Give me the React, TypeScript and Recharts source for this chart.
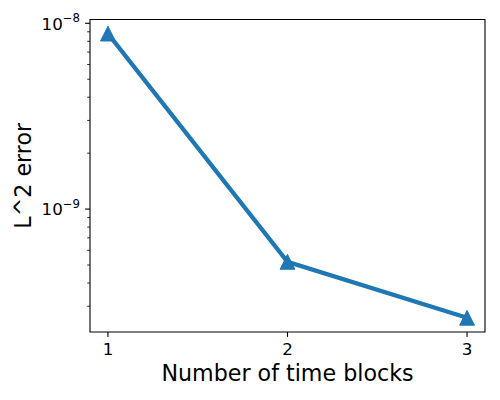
import React from "react"
import {
  LineChart, Line, XAxis, YAxis, ReferenceArea,
} from "recharts"

// values (log y axis)
const blocks = [1, 2, 3]
const l2Error = [8.8e-9, 5.2e-10, 2.6e-10]

const xTicks = [1, 2, 3]
const yMajor = [1e-9, 1e-8]
const yMinor = [
  3e-10, 4e-10, 5e-10, 6e-10, 7e-10, 8e-10, 9e-10,
  2e-9, 3e-9, 4e-9, 5e-9, 6e-9, 7e-9, 8e-9, 9e-9,
]
const xDomain: [number, number] = [0.9, 3.1]
const yDomain: [number, number] = [2.18e-10, 1.048e-8]

const data = blocks.map((b, i) => ({ blocks: b, err: l2Error[i] }))

const BLUE = "#1f77b4"
const FONT = "DejaVu Sans, sans-serif"
const TICK_FS = 16.7
const LABEL_FS = 22.2

const isMajor = (v: number) => yMajor.some((m) => Math.abs(m - v) / m < 1e-6)

function YTick(props: any) {
  const { x, y, payload } = props
  const v = payload.value as number
  if (!isMajor(v)) {
    return <line x1={x} x2={x - 2.8} y1={y} y2={y} stroke="#000" strokeWidth={0.83} />
  }
  const exp = Math.round(Math.log10(v))
  return (
    <g>
      <line x1={x} x2={x - 4.9} y1={y} y2={y} stroke="#000" strokeWidth={1.1} />
      <text x={x - 10} y={y + 6.3} textAnchor="end" fontFamily={FONT} fontSize={TICK_FS} fill="#000">
        <tspan>10</tspan>
        <tspan dy={-7.3} fontSize={11.7}>{"\u2212" + Math.abs(exp)}</tspan>
      </text>
    </g>
  )
}

function XTick(props: any) {
  const { x, y, payload } = props
  return (
    <g>
      <line x1={x} x2={x} y1={y} y2={y + 4.9} stroke="#000" strokeWidth={1.1} />
      <text x={x} y={y + 22.5} textAnchor="middle" fontFamily={FONT} fontSize={TICK_FS} fill="#000">
        {payload.value}
      </text>
    </g>
  )
}

function Triangle(props: any) {
  const { cx, cy } = props
  if (cx == null || cy == null) return null
  const s = 7.4
  return (
    <polygon
      points={`${cx},${cy - s} ${cx - s},${cy + s} ${cx + s},${cy + s}`}
      fill={BLUE}
      stroke={BLUE}
      strokeWidth={1}
    />
  )
}

export default function App() {
  return (
    <div style={{ position: "absolute", left: 0, top: 0, width: 500, height: 400, background: "#fff" }}>
      <LineChart width={500} height={400} data={data} margin={{ top: 19.5, right: 15, bottom: 0, left: 0 }}>
        <XAxis
          dataKey="blocks"
          type="number"
          domain={xDomain}
          ticks={xTicks}
          interval={0}
          height={68}
          axisLine={false}
          tickLine={false}
          tickSize={0}
          tickMargin={0}
          tick={<XTick />}
          label={({ viewBox }: any) => (
            <text
              x={viewBox.x + viewBox.width / 2}
              y={viewBox.y + 48.5}
              textAnchor="middle"
              fontFamily={FONT}
              fontSize={LABEL_FS}
              fill="#000"
            >
              Number of time blocks
            </text>
          )}
        />
        <YAxis
          type="number"
          scale="log"
          domain={yDomain}
          allowDataOverflow
          ticks={[...yMinor, ...yMajor].sort((a, b) => a - b)}
          interval={0}
          width={90}
          axisLine={false}
          tickLine={false}
          tickSize={0}
          tickMargin={0}
          tick={<YTick />}
          label={({ viewBox }: any) => {
            const cx = 31
            const cy = viewBox.y + viewBox.height / 2
            return (
              <text
                x={cx}
                y={cy}
                transform={`rotate(-90 ${cx} ${cy})`}
                textAnchor="middle"
                fontFamily={FONT}
                fontSize={LABEL_FS}
                fill="#000"
              >
                L^2 error
              </text>
            )
          }}
        />
        <ReferenceArea
          x1={xDomain[0]}
          x2={xDomain[1]}
          y1={yDomain[0]}
          y2={yDomain[1]}
          fill="none"
          fillOpacity={0}
          stroke="#000"
          strokeWidth={1.1}
          ifOverflow="visible"
        />
        <Line
          dataKey="err"
          type="linear"
          stroke={BLUE}
          strokeWidth={4.2}
          dot={<Triangle />}
          activeDot={false}
          isAnimationActive={false}
        />
      </LineChart>
    </div>
  )
}
